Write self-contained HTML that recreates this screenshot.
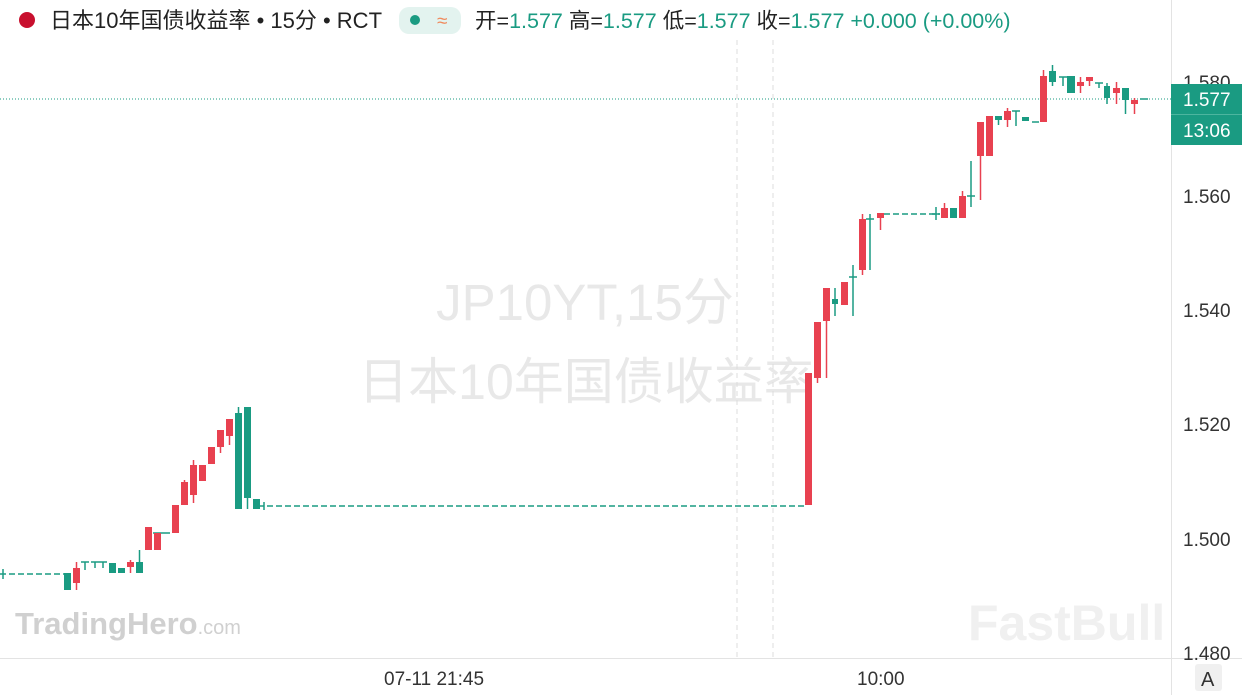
<!DOCTYPE html>
<html><head><meta charset="utf-8"><style>
body{margin:0;width:1242px;height:695px;background:#fff;overflow:hidden;font-family:"Liberation Sans","Noto Sans CJK SC",sans-serif;}
svg text{font-family:"Liberation Sans","Noto Sans CJK SC",sans-serif;}
</style></head><body>
<svg width="1242" height="695" xmlns="http://www.w3.org/2000/svg">
<rect width="1242" height="695" fill="#fff"/>
<!-- watermark -->
<text x="585" y="320" font-size="51" fill="#e8e8e8" text-anchor="middle">JP10YT,15分</text>
<text x="586" y="399" font-size="50" fill="#e8e8e8" text-anchor="middle">日本10年国债收益率</text>
<text x="15" y="634" font-size="31" font-weight="bold" fill="#d0d0d0">TradingHero<tspan font-size="20" font-weight="normal">.com</tspan></text>
<text x="968" y="640" font-size="50" font-weight="bold" fill="#f0f0f0">FastBull</text>
<!-- grid -->
<line x1="737" y1="40" x2="737" y2="658" stroke="#ddd" stroke-dasharray="5,4"/>
<line x1="773" y1="40" x2="773" y2="658" stroke="#ddd" stroke-dasharray="5,4"/>
<line x1="1171.5" y1="0" x2="1171.5" y2="695" stroke="#e3e3e3"/>
<line x1="0" y1="658.5" x2="1242" y2="658.5" stroke="#e3e3e3"/>
<!-- price line -->
<line x1="0" y1="99" x2="1171" y2="99" stroke="#1a9b82" stroke-dasharray="1,2"/>
<!-- flats -->
<g stroke="#1a9b82" stroke-width="1.5" stroke-dasharray="6,3">
<line x1="0" y1="574" x2="64" y2="574"/>
<line x1="258" y1="506" x2="805" y2="506"/>
<line x1="884" y1="214" x2="940" y2="214"/>
</g>
<g stroke="#1a9b82" stroke-width="1.5">
<line x1="3" y1="569" x2="3" y2="579"/><line x1="153" y1="533" x2="170" y2="533"/>
<line x1="85" y1="562" x2="85" y2="570"/><line x1="81" y1="562" x2="89" y2="562"/>
<line x1="95" y1="562" x2="95" y2="568"/><line x1="91" y1="562" x2="99" y2="562"/>
<line x1="103" y1="562" x2="103" y2="568"/><line x1="99" y1="562" x2="107" y2="562"/>
<line x1="853" y1="265" x2="853" y2="316"/><line x1="849" y1="277" x2="857" y2="277"/>
<line x1="870" y1="214" x2="870" y2="270"/><line x1="866" y1="219" x2="874" y2="219"/>
<line x1="936" y1="207" x2="936" y2="220"/><line x1="932" y1="214" x2="940" y2="214"/>
<line x1="971" y1="161" x2="971" y2="207"/><line x1="967" y1="196" x2="975" y2="196"/>
<line x1="1016" y1="111" x2="1016" y2="126"/><line x1="1012" y1="111" x2="1020" y2="111"/>
<line x1="1032" y1="122" x2="1039" y2="122"/>
<line x1="1063" y1="77" x2="1063" y2="86"/><line x1="1059" y1="77" x2="1067" y2="77"/>
<line x1="1099" y1="83" x2="1099" y2="88"/><line x1="1095" y1="83" x2="1103" y2="83"/>
<line x1="1140" y1="99" x2="1148" y2="99"/>
</g>
<g stroke-width="1.5">
<g stroke="#e84150">
<line x1="76.5" y1="562" x2="76.5" y2="590"/><line x1="130.5" y1="560" x2="130.5" y2="573"/>
<line x1="184.5" y1="480" x2="184.5" y2="503"/><line x1="193.5" y1="460" x2="193.5" y2="503"/>
<line x1="220.5" y1="430" x2="220.5" y2="453"/><line x1="229.5" y1="419" x2="229.5" y2="445"/>
<line x1="817.5" y1="322" x2="817.5" y2="383"/><line x1="826.5" y1="288" x2="826.5" y2="378"/>
<line x1="862.5" y1="214" x2="862.5" y2="275"/><line x1="880.5" y1="213" x2="880.5" y2="230"/>
<line x1="944.5" y1="203" x2="944.5" y2="218"/><line x1="962.5" y1="191" x2="962.5" y2="218"/>
<line x1="980.5" y1="122" x2="980.5" y2="200"/><line x1="1007.5" y1="108" x2="1007.5" y2="127"/>
<line x1="1043.5" y1="70" x2="1043.5" y2="122"/><line x1="1080.5" y1="77" x2="1080.5" y2="93"/>
<line x1="1089.5" y1="77" x2="1089.5" y2="86"/><line x1="1116.5" y1="82" x2="1116.5" y2="104"/>
<line x1="1134.5" y1="98" x2="1134.5" y2="114"/>
</g>
<g stroke="#1a9b82">
<line x1="139.5" y1="550" x2="139.5" y2="573"/><line x1="238.5" y1="407" x2="238.5" y2="509"/>
<line x1="247.5" y1="407" x2="247.5" y2="509"/><line x1="835" y1="288" x2="835" y2="316"/>
<line x1="998.5" y1="116" x2="998.5" y2="125"/><line x1="1052.5" y1="65" x2="1052.5" y2="86"/>
<line x1="1107" y1="83" x2="1107" y2="104"/><line x1="1125.5" y1="88" x2="1125.5" y2="114"/>
<line x1="264" y1="502" x2="264" y2="510"/>
</g>
</g>
<g fill="#e84150">
<rect x="73" y="568" width="7" height="15"/><rect x="127" y="562" width="7" height="5"/>
<rect x="145" y="527" width="7" height="23"/><rect x="154" y="533" width="7" height="17"/>
<rect x="172" y="505" width="7" height="28"/><rect x="181" y="482" width="7" height="23"/>
<rect x="190" y="465" width="7" height="30"/><rect x="199" y="465" width="7" height="16"/>
<rect x="208" y="447" width="7" height="17"/><rect x="217" y="430" width="7" height="17"/>
<rect x="226" y="419" width="7" height="17"/>
<rect x="805" y="373" width="7" height="132"/><rect x="814" y="322" width="7" height="56"/>
<rect x="823" y="288" width="7" height="33"/><rect x="841" y="282" width="7" height="23"/>
<rect x="859" y="219" width="7" height="51"/><rect x="877" y="213" width="7" height="5"/>
<rect x="941" y="208" width="7" height="10"/><rect x="959" y="196" width="7" height="22"/>
<rect x="977" y="122" width="7" height="34"/><rect x="986" y="116" width="7" height="40"/>
<rect x="1004" y="111" width="7" height="9"/><rect x="1040" y="76" width="7" height="46"/>
<rect x="1077" y="82" width="7" height="4"/><rect x="1086" y="77" width="7" height="4"/>
<rect x="1113" y="88" width="7" height="5"/><rect x="1131" y="100" width="7" height="4"/>
</g>
<g fill="#1a9b82">
<rect x="64" y="573" width="7" height="17"/><rect x="109" y="563" width="7" height="10"/>
<rect x="118" y="568" width="7" height="5"/><rect x="136" y="562" width="7" height="11"/>
<rect x="235" y="413" width="7" height="96"/><rect x="244" y="407" width="7" height="91"/>
<rect x="253" y="499" width="7" height="10"/>
<rect x="832" y="299" width="6" height="5"/><rect x="950" y="208" width="7" height="10"/>
<rect x="995" y="116" width="7" height="4"/><rect x="1022" y="117" width="7" height="4"/>
<rect x="1049" y="71" width="7" height="11"/><rect x="1067" y="76" width="8" height="17"/>
<rect x="1104" y="86" width="6" height="12"/><rect x="1122" y="88" width="7" height="12"/>
</g>
<!-- axis labels -->
<g font-size="19" fill="#333">
<text x="1183" y="89">1.580</text><text x="1183" y="203">1.560</text>
<text x="1183" y="317">1.540</text><text x="1183" y="431">1.520</text>
<text x="1183" y="546">1.500</text><text x="1183" y="660">1.480</text>
<text x="384" y="685">07-11 21:45</text><text x="857" y="685">10:00</text>
</g>
<rect x="1171" y="84" width="71" height="61" fill="#1a9b82"/>
<line x1="1171" y1="114.5" x2="1242" y2="114.5" stroke="#4db59f"/>
<text x="1183" y="106" font-size="19" fill="#fff">1.577</text>
<text x="1183" y="137" font-size="19" fill="#fff">13:06</text>
<rect x="1195" y="664" width="27" height="27" rx="3" fill="#f0f0f0"/>
<text x="1201" y="686" font-size="20" fill="#333">A</text>
<!-- header -->
<circle cx="27" cy="20" r="8" fill="#c8102e"/>
<text x="50" y="28" font-size="22" fill="#222">日本10年国债收益率 • 15分 • RCT</text>
<rect x="399" y="7" width="62" height="27" rx="10" fill="#e3f3ef"/>
<circle cx="415" cy="20" r="5" fill="#1a9b82"/>
<text x="437" y="27" font-size="19" fill="#f08a5d">≈</text>
<text x="475" y="28" font-size="21.5" fill="#222">开=<tspan fill="#1a9b82">1.577</tspan> 高=<tspan fill="#1a9b82">1.577</tspan> 低=<tspan fill="#1a9b82">1.577</tspan> 收=<tspan fill="#1a9b82">1.577 +0.000 (+0.00%)</tspan></text>
</svg>
</body></html>
